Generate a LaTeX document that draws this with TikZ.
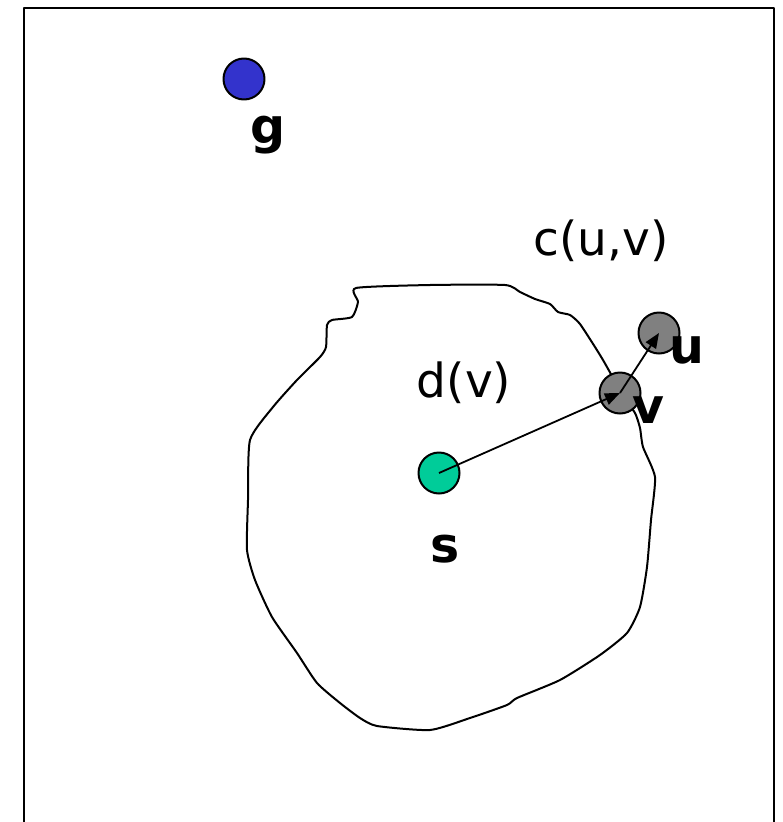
\documentclass[tikz,border=0pt]{standalone}
\usepackage{fontspec}
\setmainfont{DejaVu Sans}
\usetikzlibrary{arrows.meta}

\definecolor{goalblue}{HTML}{3333CC}
\definecolor{startgreen}{HTML}{00CC99}
\definecolor{vertgray}{HTML}{808080}

\begin{document}
\begin{tikzpicture}[x=1pt, y=-1pt, line join=round]
                \tikzset{
                    vert/.style={circle, draw, line width=2pt, minimum size=41pt, inner sep=0pt},
                    vlbl/.style={font=\fontsize{49}{56}\selectfont\bfseries, anchor=base, inner sep=0pt},
                    cost/.style={font=\fontsize{47}{56}\selectfont, anchor=base, inner sep=0pt},
                    tip/.style={-{Triangle[length=15pt, width=12pt]}, line width=1.8pt}
                }
                \useasboundingbox (0,0) rectangle (782,822);

                % frame, open at the bottom
                \draw[line width=2.2pt] (24,822) -- (24,8) -- (774,8) -- (774,822);

                % explored region
                \draw[line width=2pt] plot[smooth cycle, tension=0.35] coordinates {
                    (356,288) (430,285) (505,285) (520,292) (535,299) (550,304)
                    (558,312) (570,315) (580,324) (595,347) (603,360) (612,376)
                    (622,395) (635,413) (640,428) (643,447) (655,477) (651,520)
                    (647,567) (640,607) (627,633) (600,655) (560,680) (517,698)
                    (507,705) (470,718) (430,730) (377,726) (360,718) (340,703)
                    (317,683) (297,653) (272,617) (255,580) (247,550) (248,500)
                    (250,440) (273,407) (297,380) (320,357) (326,347) (327,325)
                    (332,320) (352,317) (358,302)};

                \node[vert, fill=goalblue] (g) at (244,79) {};
                \node[vert, fill=startgreen] (s) at (439,473) {};
                \node[vert, fill=vertgray] (v) at (620,393) {};
                \node[vert, fill=vertgray] (u) at (659,333) {};

                \path[tip]
                    (s.center) edge (v.center)
                    (v.center) edge (u.center);

                \node[vlbl] (glabel) at (268,143) {g};
                \node[vlbl] (slabel) at (445,562) {s};
                \node[vlbl] (vlabel) at (648,423) {v};
                \node[vlbl] (ulabel) at (687,363) {u};

                \node[cost] (cuv) at (601,255) {c(u,v)};
                \node[cost] (dv) at (464,397) {d(v)};

            \end{tikzpicture}
\end{document}
